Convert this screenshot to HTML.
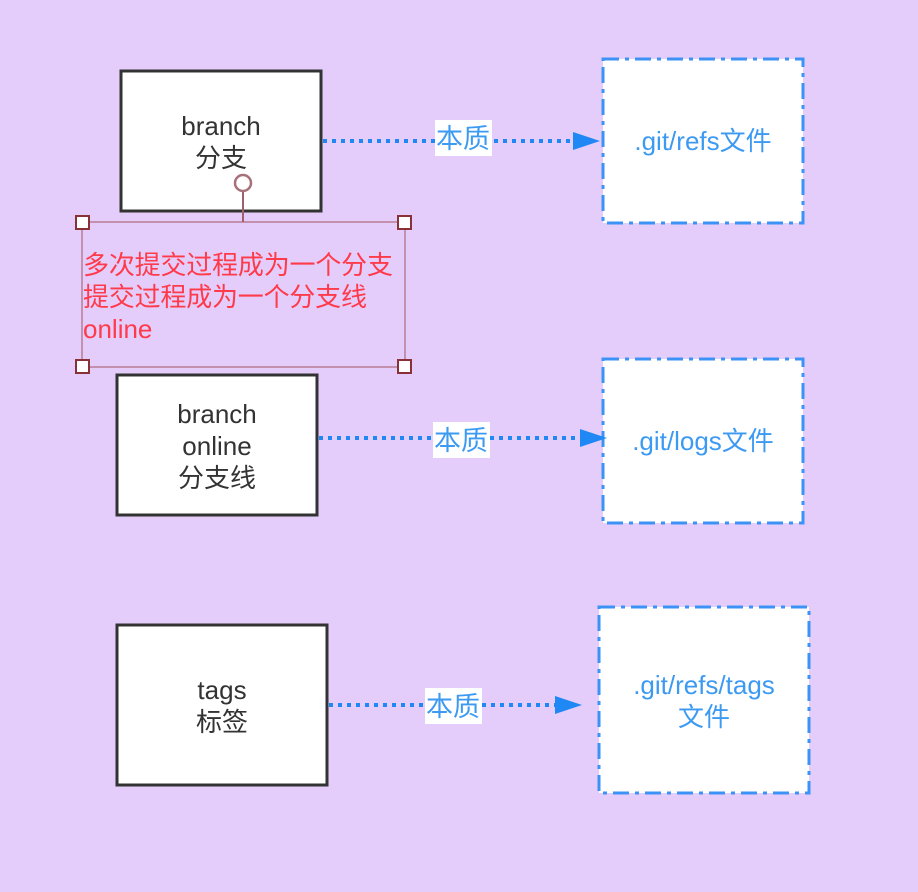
<!DOCTYPE html>
<html><head><meta charset="utf-8"><style>
html,body{margin:0;padding:0;background:#e4cdfb;}
svg{display:block}
text{font-family:"Liberation Sans","Noto Sans CJK SC",sans-serif;}
</style></head><body>
<svg width="918" height="892" viewBox="0 0 918 892" xmlns="http://www.w3.org/2000/svg">
<rect width="918" height="892" fill="#e4cdfb"/>
<g fill="#fff" stroke="#333" stroke-width="3">
<rect x="121" y="71" width="200" height="140"/>
<rect x="117" y="375" width="200" height="140"/>
<rect x="117" y="625" width="210" height="160"/>
</g>
<g font-size="26" fill="#333" text-anchor="middle">
<text x="221" y="135">branch</text><text x="221" y="167">分支</text>
<text x="217" y="423">branch</text><text x="217" y="455">online</text><text x="217" y="487">分支线</text>
<text x="222" y="699">tags</text><text x="222" y="731">标签</text>
</g>
<g fill="#fff" stroke="#3d92f5" stroke-width="3" stroke-dasharray="16,6,4,6">
<rect x="603" y="59" width="200" height="164"/>
<rect x="603" y="359" width="200" height="164"/>
<rect x="599" y="607" width="210" height="186"/>
</g>
<g font-size="26" fill="#3d9af2" text-anchor="middle">
<text x="703" y="150">.git/refs文件</text>
<text x="703" y="450">.git/logs文件</text>
<text x="704" y="694">.git/refs/tags</text><text x="704" y="726">文件</text>
</g>
<g stroke="#1f88f5" stroke-width="4" stroke-dasharray="4,5" fill="none">
<line x1="323" y1="141" x2="575" y2="141"/>
<line x1="319" y1="438" x2="582" y2="438"/>
<line x1="329" y1="705" x2="557" y2="705"/>
</g>
<g fill="#1f88f5">
<polygon points="573,132 600,141 573,150"/>
<polygon points="580,429 607,438 580,447"/>
<polygon points="555,696 582,705 555,714"/>
</g>
<g fill="#fff"><rect x="435" y="120" width="57" height="36"/><rect x="433" y="422" width="57" height="36"/><rect x="425" y="688" width="57" height="36"/></g>
<g font-size="27" fill="#3d9af2" text-anchor="middle">
<text x="463" y="148">本质</text><text x="461" y="450">本质</text><text x="453" y="716">本质</text>
</g>
<rect x="82" y="222" width="323" height="145" fill="none" stroke="#c391ad" stroke-width="2"/>
<line x1="243" y1="191" x2="243" y2="222" stroke="#a0606a" stroke-width="2"/>
<circle cx="243" cy="183" r="8" fill="#fff" stroke="#a87078" stroke-width="2.5"/>
<g fill="#fff" stroke="#8a3038" stroke-width="2">
<rect x="76" y="216" width="13" height="13"/><rect x="398" y="216" width="13" height="13"/>
<rect x="76" y="360" width="13" height="13"/><rect x="398" y="360" width="13" height="13"/>
</g>
<g font-size="26" fill="#ff3a4a">
<text x="83" y="274" textLength="310">多次提交过程成为一个分支</text>
<text x="83" y="306" textLength="284">提交过程成为一个分支线</text>
<text x="83" y="338">online</text>
</g>
</svg>
</body></html>
